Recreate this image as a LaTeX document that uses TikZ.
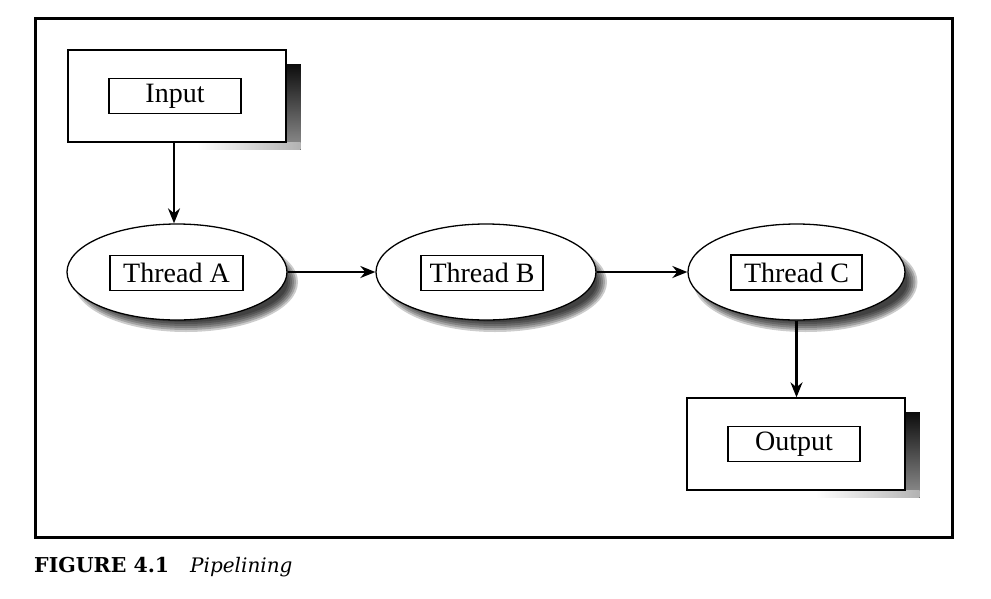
\documentclass[tikz,border=0pt]{standalone}
\usepackage{fontspec}
\newfontfamily\capfont{DejaVu Serif}
\newfontfamily\lblfont{Liberation Serif}
\usetikzlibrary{arrows.meta,shapes.geometric,backgrounds}
\begin{document}
\begin{tikzpicture}[x=1pt,y=-1pt,
  frame/.style={line width=3pt},
  outerbox/.style={draw, line width=1.3pt, fill=white, minimum width=218pt, minimum height=92pt, inner sep=0pt},
  thread/.style={ellipse, draw, line width=1.3pt, fill=white, minimum width=220pt, minimum height=96pt, inner sep=0pt},
  lbl/.style={draw, line width=1.2pt, fill=white, minimum height=35pt, inner sep=0pt, font=\lblfont\fontsize{28}{32}\selectfont},
  arr/.style={line width=2.2pt, -{Stealth[length=15pt,width=12pt]}},
  boxshadow/.style={top color=black!95, bottom color=black!45},
  capbold/.style={font=\capfont\bfseries\fontsize{20.5}{24}\selectfont, inner sep=0pt, anchor=base west},
  capit/.style={font=\capfont\itshape\fontsize{20}{24}\selectfont, inner sep=0pt, anchor=base west},
  ]
\useasboundingbox (0,0) rectangle (991,598);
\draw[frame] (35,18) rectangle (952,537);

% boxes and ellipses
\node[outerbox] (inbox) at (177,96) {};
\node[lbl, minimum width=132pt] (in) at (175,96) {Input};

\node[thread] (A) at (177,272) {};
\node[lbl, minimum width=133pt] (la) at (176.5,273) {Thread A};

\node[thread] (B) at (486,272) {};
\node[lbl, minimum width=122pt] (lb) at (482,273) {Thread B};

\node[thread, minimum width=217pt] (C) at (796.5,272) {};
\node[lbl, minimum width=131pt] (lc) at (796.5,272.5) {Thread C};

\node[outerbox] (outbox) at (796,444) {};
\node[lbl, minimum width=132pt] (out) at (794,444) {Output};

% shadows
\begin{scope}[on background layer]
  \foreach \n in {A,B,C}{
    \foreach \k in {0,2,4,6,8,10}{
      \fill[black,opacity=0.2] ([shift={(9,10)}]\n.center) ellipse [x radius=112-\k, y radius=50-\k];
    }
  }
  \fill[boxshadow] ([shift={(0,15)}]inbox.north east) rectangle ([shift={(14,4)}]inbox.south east);
  \fill[left color=white, right color=black!30] ([shift={(-90,0)}]inbox.south east) rectangle ([shift={(14,7)}]inbox.south east);
  \fill[boxshadow] ([shift={(0,15)}]outbox.north east) rectangle ([shift={(14,4)}]outbox.south east);
  \fill[left color=white, right color=black!30] ([shift={(-90,0)}]outbox.south east) rectangle ([shift={(14,7)}]outbox.south east);
\end{scope}

% connectors
\draw[arr] ([xshift=-3pt]inbox.south) -- ([xshift=-3pt]A.north);
\draw[arr] (A.east) -- (B.west);
\draw[arr] (B.east) -- (C.west);
\draw[arr] (C.south) -- (outbox.north -| C.south);

% caption
\node[capbold] (fig) at (34,572) {FIGURE 4.1};
\node[capit] (cap) at (190,572) {Pipelining};
\end{tikzpicture}
\end{document}
